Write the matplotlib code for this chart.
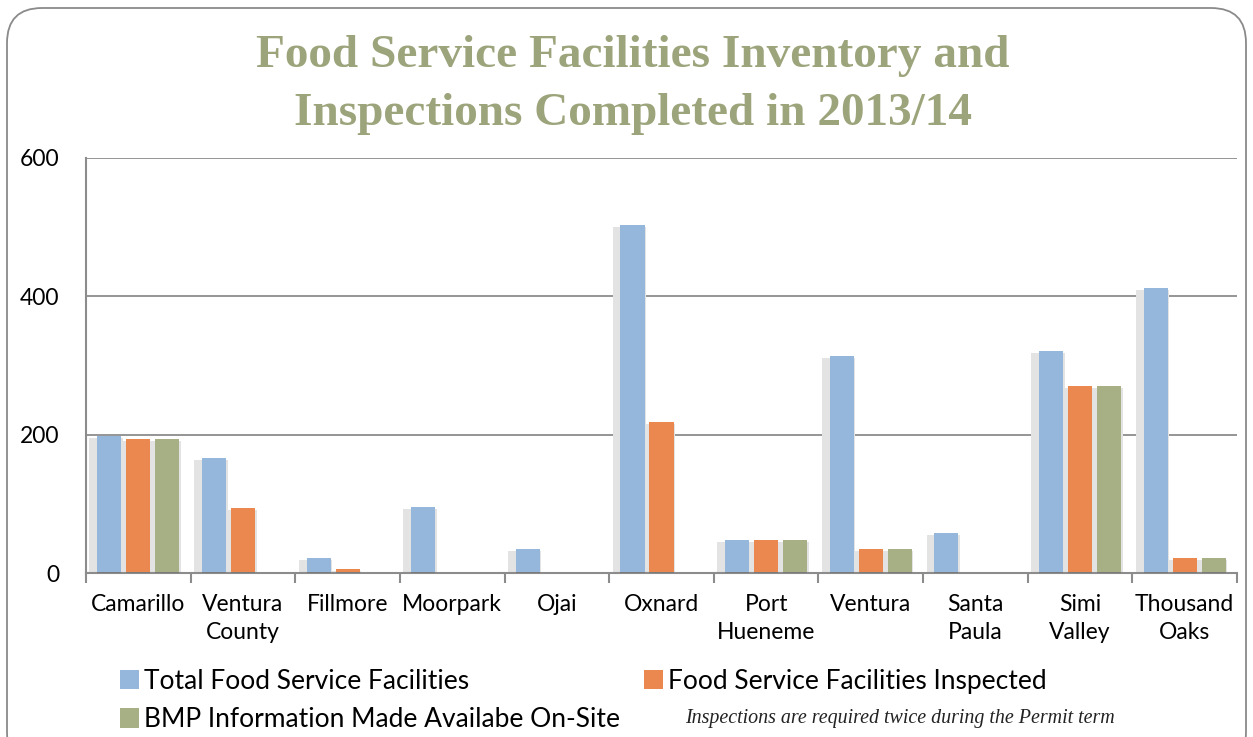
import numpy as np
import matplotlib.pyplot as plt
from matplotlib.patches import FancyBboxPatch, Patch

# data
cities = ['Camarillo', 'Ventura\nCounty', 'Fillmore', 'Moorpark', 'Ojai', 'Oxnard',
          'Port\nHueneme', 'Ventura', 'Santa\nPaula', 'Simi\nValley', 'Thousand\nOaks']
total = [198, 166, 22, 96, 35, 503, 48, 314, 58, 321, 412]
inspected = [194, 94, 6, 0, 0, 218, 48, 35, 0, 270, 22]
bmp = [194, 0, 0, 0, 0, 0, 48, 35, 0, 270, 22]

series_names = ['Total Food Service Facilities', 'Food Service Facilities Inspected',
                'BMP Information Made Availabe On-Site']
colors = ['#95B7DB', '#EB8850', '#A7AF84']

W, H, DPI = 1253, 737, 100
fig = plt.figure(figsize=(W / DPI, H / DPI), dpi=DPI)
ax = fig.add_axes([86 / W, 1 - 573 / H, (1237 - 86) / W, (573 - 158) / H])

# rounded frame around the chart
frame = FancyBboxPatch((0.07, -0.3), 12.39, 7.59, boxstyle='round,pad=0,rounding_size=0.35',
                       transform=fig.dpi_scale_trans, facecolor='none',
                       edgecolor='#8a8a8a', linewidth=1.3)
fig.patches.append(frame)

x = np.arange(len(cities))
bw = 0.23
off = 0.277
data = [total, inspected, bmp]
for i, vals in enumerate(data):
    pos = x + (i - 1) * off
    # soft shadow behind bars
    ax.bar(pos - 0.03, np.array(vals) - 3, width=bw + 0.09, bottom=0, color='#e3e3e3',
           zorder=2, linewidth=0)
    ax.bar(pos, vals, width=bw, color=colors[i], zorder=3, linewidth=0)
    # base stubs on the axis
    ax.bar(pos, [3 if v > 0 else 0 for v in vals], width=bw, bottom=-2,
           color='#7a7a7a', zorder=4, linewidth=0)

ax.set_xlim(-0.5, len(cities) - 0.5)
ax.set_ylim(0, 600)
ax.set_yticks([0, 200, 400, 600])
ax.yaxis.grid(True, color='#8c8c8c', linewidth=1.3, zorder=0)
ax.set_axisbelow(True)

for s in ['top', 'right']:
    ax.spines[s].set_visible(False)
for s in ['left', 'bottom']:
    ax.spines[s].set_color('#8c8c8c')
    ax.spines[s].set_linewidth(1.5)

ax.set_xticks(x)
ax.set_xticklabels(cities, fontsize=16.5, family='Lato', linespacing=1.45)
ax.set_xticks(np.arange(-0.5, len(cities)), minor=True)
ax.tick_params(axis='x', which='major', length=0, pad=15)
ax.tick_params(axis='x', which='minor', length=7, width=1.5, color='#8c8c8c')
ax.tick_params(axis='y', length=0, pad=19, labelsize=16.5)
for lab in ax.get_yticklabels():
    lab.set_family('Lato')

fig.text(0.505, 1 - 85 / H, 'Food Service Facilities Inventory and\nInspections Completed in 2013/14',
         ha='center', va='center', fontsize=34, fontweight='bold', family='Liberation Serif',
         color='#9CA47B', linespacing=1.5)

handles = [Patch(facecolor=colors[0]), Patch(facecolor=colors[2]), Patch(facecolor=colors[1])]
labels = [series_names[0], series_names[2], series_names[1]]
leg = fig.legend(handles, labels, ncol=2, loc='upper left', bbox_to_anchor=(120 / W, 1 - 669 / H),
                 frameon=False, prop={'family': 'Lato', 'size': 19}, handlelength=0.72,
                 handleheight=0.75, handletextpad=0.2, columnspacing=0.9, labelspacing=0.5,
                 borderaxespad=0, borderpad=0)

fig.text(685 / W, 1 - 719 / H, 'Inspections are required twice during the Permit term',
         ha='left', va='center', fontsize=14.4, style='italic', family='Liberation Serif',
         color='#222222')

fig.savefig('out.png', dpi=DPI)
